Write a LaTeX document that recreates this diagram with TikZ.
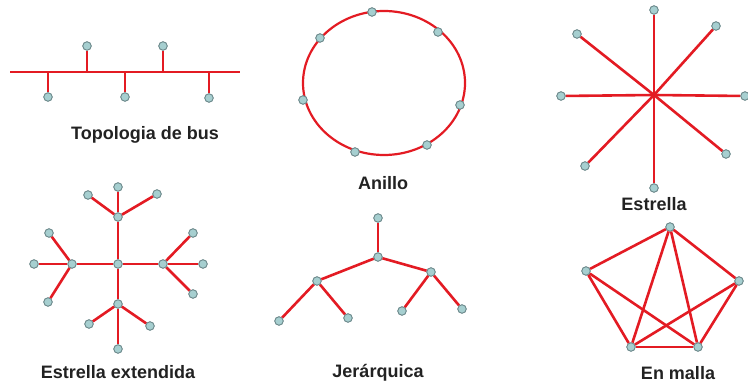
\documentclass[tikz,border=0pt]{standalone}
\usepackage{fontspec}
\setmainfont{Liberation Sans}
\usepackage{tikz}
\usetikzlibrary{positioning, calc}
\usepackage{xcolor}
\definecolor{netred}{HTML}{E31B23}
\definecolor{hostfill}{HTML}{A6CFD0}
\definecolor{hostline}{HTML}{6E8A8C}
\definecolor{labelgray}{HTML}{222222}

\begin{document}
\begin{tikzpicture}[
  x=0.5pt, y=-0.5pt,
  host/.style={draw=hostline, fill=hostfill, circle, line width=0.4pt,
    minimum size=4.2pt, inner sep=0pt},
  link/.style={netred, line width=1.3pt},
  caption/.style={font=\fontsize{9}{10}\selectfont\bfseries, text=labelgray}
]
  \useasboundingbox (0,0) rectangle (748,384);

  % Bus
  \coordinate (busl) at (10,72);
  \coordinate (busr) at (240,72);
  \draw[link] (busl) -- (busr);
  \foreach \n/\x/\y in {b1/87/46, b2/163/46, b3/48/97, b4/125/97, b5/209/98} {
    \node[host] (\n) at (\x,\y) {};
    \draw[link] (\n) -- (\x,72);
  }
  \node[caption] (capbus) at (145,135) {Topologia de bus};

  % Ring
  \coordinate (rc) at (384,83);
  \draw[netred, line width=1.1pt] (rc) ellipse [x radius=81, y radius=72];
  \foreach \n/\x/\y in {r1/372/12, r2/320/38, r3/438/32, r4/303/100,
                        r5/460/105, r6/355/152, r7/427/145} {
    \node[host] (\n) at (\x,\y) {};
  }
  \node[caption] (capring) at (383,183) {Anillo};

  % Star
  \coordinate (sc) at (654,95);
  \foreach \n/\x/\y in {s1/654/10, s2/716/26, s3/577/34, s4/561/96,
                        s5/745/96, s6/726/154, s7/585/166, s8/654/188} {
    \node[host] (\n) at (\x,\y) {};
    \draw[link] (sc) -- (\n);
  }
  \node[caption] (capstar) at (654,204) {Estrella};

  % Extended star
  \node[host] (e0) at (118,264) {};
  \foreach \h/\x/\y in {et/118/217, el/72/264, er/163/264, eb/118/304} {
    \node[host] (\h) at (\x,\y) {};
    \draw[link] (e0) -- (\h);
  }
  \foreach \h/\n/\x/\y in {et/et1/118/187, et/et2/88/195, et/et3/157/194,
                           el/el1/34/264, el/el2/49/233, el/el3/48/302,
                           er/er1/203/264, er/er2/193/233, er/er3/193/294,
                           eb/eb1/118/349, eb/eb2/89/324, eb/eb3/150/326} {
    \node[host] (\n) at (\x,\y) {};
    \draw[link] (\h) -- (\n);
  }
  \node[caption] (capext) at (118,372) {Estrella extendida};

  % Hierarchical
  \node[host] (h0) at (378,218) {};
  \node[host] (h1) at (378,257) {};
  \node[host] (h2) at (317,281) {};
  \node[host] (h3) at (431,272) {};
  \node[host] (h4) at (279,321) {};
  \node[host] (h5) at (348,318) {};
  \node[host] (h6) at (402,311) {};
  \node[host] (h7) at (462,309) {};
  \foreach \a/\b in {h0/h1, h1/h2, h1/h3, h2/h4, h2/h5, h3/h6, h3/h7}
    \draw[link] (\a) -- (\b);
  \node[caption] (caphier) at (378,373) {Jerárquica};

  % Mesh
  \node[host] (m1) at (670,227) {};
  \node[host] (m2) at (586,271) {};
  \node[host] (m3) at (739,281) {};
  \node[host] (m4) at (631,347) {};
  \node[host] (m5) at (698,347) {};
  \foreach \a/\b in {m1/m2, m1/m3, m1/m4, m1/m5, m2/m4, m2/m5,
                     m3/m4, m3/m5, m4/m5}
    \draw[link] (\a) -- (\b);
  \node[caption] (capmesh) at (678,373) {En malla};

  % hosts on top of the links
  \foreach \n in {b1,b2,b3,b4,b5,r1,r2,r3,r4,r5,r6,r7,
                  s1,s2,s3,s4,s5,s6,s7,s8,
                  e0,et,el,er,eb,et1,et2,et3,el1,el2,el3,er1,er2,er3,eb1,eb2,eb3,
                  h0,h1,h2,h3,h4,h5,h6,h7,m1,m2,m3,m4,m5}
    \node[host] at (\n) {};
\end{tikzpicture}
\end{document}
